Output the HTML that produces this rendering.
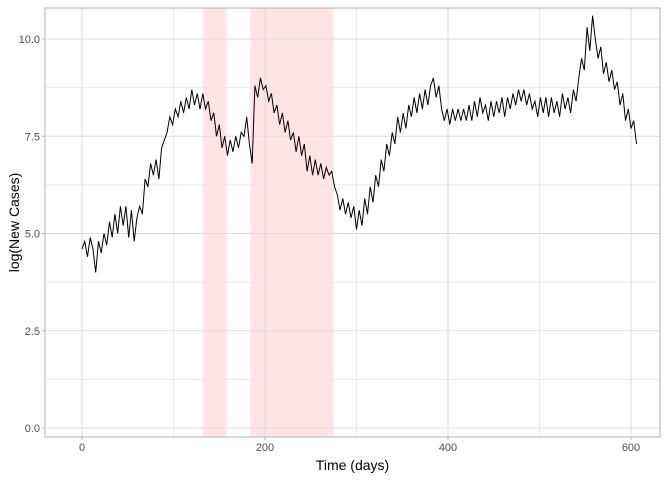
<!DOCTYPE html>
<html><head><meta charset="utf-8"><style>
body{margin:0;background:#fff;font-family:"Liberation Sans",sans-serif}
</style></head><body>
<svg id="chart" width="672" height="480" xmlns="http://www.w3.org/2000/svg" font-family="Liberation Sans, sans-serif"></svg>
<script>
const startDay = 0;
const dayStep = 3;
const logCases = [4.6,4.8,4.4,4.9,4.6,4.0,4.8,4.5,5.0,4.7,5.3,4.9,5.5,5.0,5.7,5.2,5.7,4.9,5.6,4.8,5.4,5.7,5.5,6.4,6.2,6.8,6.5,6.9,6.4,7.2,7.4,7.6,8.0,7.8,8.2,8.0,8.4,8.1,8.5,8.2,8.7,8.3,8.6,8.2,8.6,8.2,8.4,7.9,8.1,7.5,7.8,7.2,7.5,7.0,7.4,7.1,7.5,7.2,7.6,7.5,8.0,7.3,6.8,8.8,8.5,9.0,8.7,8.8,8.4,8.6,8.1,8.3,7.8,8.1,7.6,7.9,7.4,7.6,7.1,7.5,7.0,7.3,6.6,7.0,6.5,6.9,6.5,6.8,6.4,6.7,6.5,6.6,6.2,6.0,5.6,5.9,5.5,5.8,5.4,5.7,5.1,5.6,5.2,5.9,5.5,6.2,5.8,6.5,6.2,6.9,6.6,7.3,7.0,7.6,7.3,8.0,7.6,8.1,7.7,8.3,8.0,8.5,8.1,8.6,8.2,8.7,8.3,8.8,9.0,8.5,8.8,8.2,7.9,8.2,7.8,8.2,7.9,8.2,7.9,8.2,7.9,8.3,7.9,8.4,8.0,8.5,8.1,8.3,7.9,8.4,8.0,8.4,8.1,8.5,8.0,8.5,8.2,8.6,8.3,8.7,8.4,8.7,8.3,8.6,8.2,8.4,8.0,8.5,8.1,8.5,8.0,8.5,8.1,8.4,8.0,8.6,8.2,8.5,8.1,8.7,8.4,9.0,9.5,9.2,10.3,9.7,10.6,10.0,9.5,9.8,9.1,9.4,8.9,9.2,8.7,8.9,8.3,8.6,7.9,8.2,7.7,7.9,7.3];
const shadeStarts = [132, 184];
const shadeEnds = [158, 275];
const xTicks = [0, 200, 400, 600];
const xMinor = [100, 300, 500];
const yTicks = [0, 2.5, 5, 7.5, 10];
const yTickLabels = ["0.0", "2.5", "5.0", "7.5", "10.0"];
const yMinor = [1.25, 3.75, 6.25, 8.75];

const L=45,R=660,T=8,B=437;
const X=d=>82+d*(631-82)/600;
const Y=v=>428-v*(428-39)/10;
const svg=document.getElementById('chart');
const NS='http://www.w3.org/2000/svg';
function mk(tag,at,parent){const e=document.createElementNS(NS,tag);for(const k in at)e.setAttribute(k,at[k]);(parent||svg).appendChild(e);return e;}

const shades=mk('g',{});


shadeStarts.forEach((s,i)=>{const r=mk('rect',{x:X(s),y:T,width:X(shadeEnds[i])-X(s),height:B-T,fill:'#ffe4e6'},shades);

});

const grid=mk('g',{});


xMinor.forEach(d=>mk('line',{x1:X(d),x2:X(d),y1:T,y2:B,stroke:'#e6e6e6','stroke-width':0.8},grid));
yMinor.forEach(v=>mk('line',{x1:L,x2:R,y1:Y(v),y2:Y(v),stroke:'#e6e6e6','stroke-width':0.8},grid));
xTicks.forEach(d=>mk('line',{x1:X(d),x2:X(d),y1:T,y2:B,stroke:'#dedede','stroke-width':1.1},grid));
yTicks.forEach(v=>mk('line',{x1:L,x2:R,y1:Y(v),y2:Y(v),stroke:'#dedede','stroke-width':1.1},grid));

const pts=logCases.map((v,i)=>X(startDay+i*dayStep).toFixed(1)+','+Y(v).toFixed(1)).join(' ');
const line=mk('polyline',{points:pts,fill:'none',stroke:'#000','stroke-width':1});



const border=mk('rect',{x:L,y:T,width:R-L,height:B-T,fill:'none',stroke:'#b3b3b3','stroke-width':1});



xTicks.forEach(d=>{mk('line',{x1:X(d),x2:X(d),y1:B,y2:B+3,stroke:'#b3b3b3'});
const t=mk('text',{x:X(d),y:B+14,'text-anchor':'middle','font-size':11,fill:'#4d4d4d'});t.textContent=d;

});
yTicks.forEach((v,i)=>{mk('line',{x1:L-3,x2:L,y1:Y(v),y2:Y(v),stroke:'#b3b3b3'});
const t=mk('text',{x:L-5,y:Y(v)+4,'text-anchor':'end','font-size':11,fill:'#4d4d4d'});t.textContent=yTickLabels[i];

});

const xt=mk('text',{x:(L+R)/2,y:470,'text-anchor':'middle','font-size':14,fill:'#000'});xt.textContent='Time (days)';


const yt=mk('text',{x:0,y:0,'text-anchor':'middle','font-size':14,fill:'#000',transform:'translate(19,'+((T+B)/2)+') rotate(-90)'});yt.textContent='log(New Cases)';


</script>
</body></html>
